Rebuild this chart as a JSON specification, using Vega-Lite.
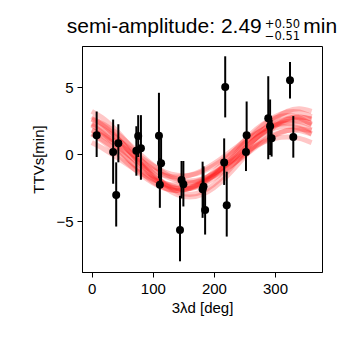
{
  "$schema": "https://vega.github.io/schema/vega-lite/v6.json",
  "width": 240,
  "height": 226,
  "autosize": "none",
  "padding": {"left": 82, "top": 46, "right": 18, "bottom": 68},
  "background": "white",
  "title": {
    "text": "semi-amplitude: 2.49\u2003\u2002\u2009 min",
    "subtitle": ["\u200b\u00a0\u00a0\u00a0\u00a0\u00a0\u00a0\u00a0\u00a0\u00a0\u00a0\u00a0\u00a0\u00a0\u00a0\u00a0\u00a0\u00a0\u00a0\u00a0\u00a0\u00a0\u00a0\u00a0\u00a0\u00a0\u00a0\u00a0\u00a0\u00a0\u00a0\u00a0\u00a0\u00a0\u00a0\u00a0\u00a0\u00a0\u00a0\u00a0\u00a0\u00a0\u00a0\u00a0\u00a0+0.50", "\u200b\u00a0\u00a0\u00a0\u00a0\u00a0\u00a0\u00a0\u00a0\u00a0\u00a0\u00a0\u00a0\u00a0\u00a0\u00a0\u00a0\u00a0\u00a0\u00a0\u00a0\u00a0\u00a0\u00a0\u00a0\u00a0\u00a0\u00a0\u00a0\u00a0\u00a0\u00a0\u00a0\u00a0\u00a0\u00a0\u00a0\u00a0\u00a0\u00a0\u00a0\u00a0\u00a0\u00a0\u00a0\u22120.51"],
    "font": "Liberation Sans",
    "fontSize": 21,
    "fontWeight": "normal",
    "color": "black",
    "subtitleFont": "DejaVu Sans",
    "subtitleFontSize": 11.5,
    "subtitleLineHeight": 12,
    "subtitleColor": "black",
    "subtitlePadding": -18,
    "anchor": "middle",
    "offset": 4
  },
  "config": {
    "font": "Liberation Sans",
    "view": {"stroke": "black", "strokeWidth": 1},
    "axis": {
      "grid": false,
      "domainColor": "black",
      "tickColor": "black",
      "labelColor": "black",
      "titleColor": "black",
      "labelFont": "Liberation Sans",
      "titleFont": "Liberation Sans",
      "labelFontSize": 15,
      "titleFontSize": 15,
      "titleFontWeight": "normal",
      "tickSize": 5,
      "labelPadding": 4
    }
  },
  "datasets": {
    "pts": [
      {"x": 8, "y": 1.42, "lo": -0.2, "hi": 3.2},
      {"x": 35, "y": 0.17, "lo": -2.2, "hi": 2.6},
      {"x": 40, "y": -3.05, "lo": -5.4, "hi": -0.6},
      {"x": 43.5, "y": 0.83, "lo": -0.6, "hi": 2.25},
      {"x": 73, "y": 0.26, "lo": -1.6, "hi": 2.1},
      {"x": 76, "y": 1.37, "lo": -0.2, "hi": 2.93},
      {"x": 80.5, "y": 0.45, "lo": -1.9, "hi": 2.93},
      {"x": 110, "y": 1.38, "lo": -1.8, "hi": 4.6},
      {"x": 113.5, "y": -0.66, "lo": -2.5, "hi": 1.2},
      {"x": 111.5, "y": -2.27, "lo": -4.0, "hi": -0.3},
      {"x": 147, "y": -1.92, "lo": -3.3, "hi": -0.5},
      {"x": 150, "y": -2.24, "lo": -3.9, "hi": -0.5},
      {"x": 144.5, "y": -5.65, "lo": -8.0, "hi": -3.1},
      {"x": 181.5, "y": -2.62, "lo": -4.75, "hi": -0.55},
      {"x": 183, "y": -2.4, "lo": -4.2, "hi": -0.9},
      {"x": 185.6, "y": -4.16, "lo": -6.0, "hi": -2.4},
      {"x": 216.8, "y": -0.62, "lo": -2.29, "hi": 1.19},
      {"x": 218.5, "y": 5.03, "lo": 2.76, "hi": 7.33},
      {"x": 221, "y": -3.8, "lo": -6.15, "hi": -1.3},
      {"x": 253.6, "y": 1.42, "lo": 0.0, "hi": 3.95},
      {"x": 252.5, "y": 0.17, "lo": -1.25, "hi": 1.6},
      {"x": 289, "y": 2.69, "lo": -0.37, "hi": 5.84},
      {"x": 292, "y": 2.1, "lo": -0.05, "hi": 4.1},
      {"x": 294.5, "y": 1.2, "lo": -0.17, "hi": 2.6},
      {"x": 324.6, "y": 5.54, "lo": 4.18, "hi": 6.91},
      {"x": 330, "y": 1.3, "lo": -0.25, "hi": 2.86}
    ],
    "curves": [
      {"s":"a","x":0,"y":2.17},{"s":"a","x":20,"y":1.61},{"s":"a","x":40,"y":0.86},{"s":"a","x":60,"y":0},{"s":"a","x":80,"y":-0.86},{"s":"a","x":100,"y":-1.61},{"s":"a","x":120,"y":-2.17},{"s":"a","x":140,"y":-2.46},{"s":"a","x":160,"y":-2.46},{"s":"a","x":180,"y":-2.17},{"s":"a","x":200,"y":-1.61},{"s":"a","x":220,"y":-0.86},{"s":"a","x":240,"y":0},{"s":"a","x":260,"y":0.86},{"s":"a","x":280,"y":1.61},{"s":"a","x":300,"y":2.17},{"s":"a","x":320,"y":2.46},{"s":"a","x":340,"y":2.46},{"s":"a","x":360,"y":2.17},
      {"s":"b","x":0,"y":1.83},{"s":"b","x":20,"y":1.3},{"s":"b","x":40,"y":0.65},{"s":"b","x":60,"y":-0.05},{"s":"b","x":80,"y":-0.7},{"s":"b","x":100,"y":-1.23},{"s":"b","x":120,"y":-1.58},{"s":"b","x":140,"y":-1.7},{"s":"b","x":160,"y":-1.58},{"s":"b","x":180,"y":-1.23},{"s":"b","x":200,"y":-0.7},{"s":"b","x":220,"y":-0.05},{"s":"b","x":240,"y":0.65},{"s":"b","x":260,"y":1.3},{"s":"b","x":280,"y":1.83},{"s":"b","x":300,"y":2.18},{"s":"b","x":320,"y":2.3},{"s":"b","x":340,"y":2.18},{"s":"b","x":360,"y":1.83},
      {"s":"c","x":0,"y":2.62},{"s":"c","x":20,"y":2.1},{"s":"c","x":40,"y":1.3},{"s":"c","x":60,"y":0.32},{"s":"c","x":80,"y":-0.72},{"s":"c","x":100,"y":-1.7},{"s":"c","x":120,"y":-2.5},{"s":"c","x":140,"y":-3.02},{"s":"c","x":160,"y":-3.2},{"s":"c","x":180,"y":-3.02},{"s":"c","x":200,"y":-2.5},{"s":"c","x":220,"y":-1.7},{"s":"c","x":240,"y":-0.72},{"s":"c","x":260,"y":0.32},{"s":"c","x":280,"y":1.3},{"s":"c","x":300,"y":2.1},{"s":"c","x":320,"y":2.62},{"s":"c","x":340,"y":2.8},{"s":"c","x":360,"y":2.62},
      {"s":"d","x":0,"y":1.51},{"s":"d","x":20,"y":1.01},{"s":"d","x":40,"y":0.35},{"s":"d","x":60,"y":-0.4},{"s":"d","x":80,"y":-1.15},{"s":"d","x":100,"y":-1.81},{"s":"d","x":120,"y":-2.31},{"s":"d","x":140,"y":-2.57},{"s":"d","x":160,"y":-2.57},{"s":"d","x":180,"y":-2.31},{"s":"d","x":200,"y":-1.81},{"s":"d","x":220,"y":-1.15},{"s":"d","x":240,"y":-0.4},{"s":"d","x":260,"y":0.35},{"s":"d","x":280,"y":1.01},{"s":"d","x":300,"y":1.51},{"s":"d","x":320,"y":1.77},{"s":"d","x":340,"y":1.77},{"s":"d","x":360,"y":1.51},
      {"s":"e","x":0,"y":2.66},{"s":"e","x":20,"y":2.24},{"s":"e","x":40,"y":1.6},{"s":"e","x":60,"y":0.82},{"s":"e","x":80,"y":-0.02},{"s":"e","x":100,"y":-0.8},{"s":"e","x":120,"y":-1.44},{"s":"e","x":140,"y":-1.86},{"s":"e","x":160,"y":-2.0},{"s":"e","x":180,"y":-1.86},{"s":"e","x":200,"y":-1.44},{"s":"e","x":220,"y":-0.8},{"s":"e","x":240,"y":-0.02},{"s":"e","x":260,"y":0.82},{"s":"e","x":280,"y":1.6},{"s":"e","x":300,"y":2.24},{"s":"e","x":320,"y":2.66},{"s":"e","x":340,"y":2.8},{"s":"e","x":360,"y":2.66},
      {"s":"f","x":0,"y":2.24},{"s":"f","x":20,"y":1.5},{"s":"f","x":40,"y":0.59},{"s":"f","x":60,"y":-0.39},{"s":"f","x":80,"y":-1.3},{"s":"f","x":100,"y":-2.04},{"s":"f","x":120,"y":-2.53},{"s":"f","x":140,"y":-2.7},{"s":"f","x":160,"y":-2.53},{"s":"f","x":180,"y":-2.04},{"s":"f","x":200,"y":-1.3},{"s":"f","x":220,"y":-0.39},{"s":"f","x":240,"y":0.59},{"s":"f","x":260,"y":1.5},{"s":"f","x":280,"y":2.24},{"s":"f","x":300,"y":2.73},{"s":"f","x":320,"y":2.9},{"s":"f","x":340,"y":2.73},{"s":"f","x":360,"y":2.24},
      {"s":"g","x":0,"y":2.81},{"s":"g","x":20,"y":2.16},{"s":"g","x":40,"y":1.29},{"s":"g","x":60,"y":0.3},{"s":"g","x":80,"y":-0.69},{"s":"g","x":100,"y":-1.57},{"s":"g","x":120,"y":-2.21},{"s":"g","x":140,"y":-2.56},{"s":"g","x":160,"y":-2.56},{"s":"g","x":180,"y":-2.21},{"s":"g","x":200,"y":-1.57},{"s":"g","x":220,"y":-0.69},{"s":"g","x":240,"y":0.3},{"s":"g","x":260,"y":1.29},{"s":"g","x":280,"y":2.16},{"s":"g","x":300,"y":2.81},{"s":"g","x":320,"y":3.16},{"s":"g","x":340,"y":3.16},{"s":"g","x":360,"y":2.81},
      {"s":"h","x":0,"y":1.78},{"s":"h","x":20,"y":1.43},{"s":"h","x":40,"y":0.9},{"s":"h","x":60,"y":0.25},{"s":"h","x":80,"y":-0.45},{"s":"h","x":100,"y":-1.1},{"s":"h","x":120,"y":-1.63},{"s":"h","x":140,"y":-1.98},{"s":"h","x":160,"y":-2.1},{"s":"h","x":180,"y":-1.98},{"s":"h","x":200,"y":-1.63},{"s":"h","x":220,"y":-1.1},{"s":"h","x":240,"y":-0.45},{"s":"h","x":260,"y":0.25},{"s":"h","x":280,"y":0.9},{"s":"h","x":300,"y":1.43},{"s":"h","x":320,"y":1.78},{"s":"h","x":340,"y":1.9},{"s":"h","x":360,"y":1.78},
      {"s":"i","x":0,"y":1.54},{"s":"i","x":20,"y":0.9},{"s":"i","x":40,"y":0.12},{"s":"i","x":60,"y":-0.72},{"s":"i","x":80,"y":-1.5},{"s":"i","x":100,"y":-2.14},{"s":"i","x":120,"y":-2.56},{"s":"i","x":140,"y":-2.7},{"s":"i","x":160,"y":-2.56},{"s":"i","x":180,"y":-2.14},{"s":"i","x":200,"y":-1.5},{"s":"i","x":220,"y":-0.72},{"s":"i","x":240,"y":0.12},{"s":"i","x":260,"y":0.9},{"s":"i","x":280,"y":1.54},{"s":"i","x":300,"y":1.96},{"s":"i","x":320,"y":2.1},{"s":"i","x":340,"y":1.96},{"s":"i","x":360,"y":1.54},
      {"s":"j","x":0,"y":2.32},{"s":"j","x":20,"y":1.85},{"s":"j","x":40,"y":1.22},{"s":"j","x":60,"y":0.5},{"s":"j","x":80,"y":-0.22},{"s":"j","x":100,"y":-0.85},{"s":"j","x":120,"y":-1.32},{"s":"j","x":140,"y":-1.57},{"s":"j","x":160,"y":-1.57},{"s":"j","x":180,"y":-1.32},{"s":"j","x":200,"y":-0.85},{"s":"j","x":220,"y":-0.22},{"s":"j","x":240,"y":0.5},{"s":"j","x":260,"y":1.22},{"s":"j","x":280,"y":1.85},{"s":"j","x":300,"y":2.32},{"s":"j","x":320,"y":2.57},{"s":"j","x":340,"y":2.57},{"s":"j","x":360,"y":2.32},
      {"s":"k","x":0,"y":3.21},{"s":"k","x":20,"y":2.65},{"s":"k","x":40,"y":1.8},{"s":"k","x":60,"y":0.76},{"s":"k","x":80,"y":-0.36},{"s":"k","x":100,"y":-1.4},{"s":"k","x":120,"y":-2.25},{"s":"k","x":140,"y":-2.81},{"s":"k","x":160,"y":-3.0},{"s":"k","x":180,"y":-2.81},{"s":"k","x":200,"y":-2.25},{"s":"k","x":220,"y":-1.4},{"s":"k","x":240,"y":-0.36},{"s":"k","x":260,"y":0.76},{"s":"k","x":280,"y":1.8},{"s":"k","x":300,"y":2.65},{"s":"k","x":320,"y":3.21},{"s":"k","x":340,"y":3.4},{"s":"k","x":360,"y":3.21},
      {"s":"l","x":0,"y":0.88},{"s":"l","x":20,"y":0.4},{"s":"l","x":40,"y":-0.19},{"s":"l","x":60,"y":-0.81},{"s":"l","x":80,"y":-1.4},{"s":"l","x":100,"y":-1.88},{"s":"l","x":120,"y":-2.19},{"s":"l","x":140,"y":-2.3},{"s":"l","x":160,"y":-2.19},{"s":"l","x":180,"y":-1.88},{"s":"l","x":200,"y":-1.4},{"s":"l","x":220,"y":-0.81},{"s":"l","x":240,"y":-0.19},{"s":"l","x":260,"y":0.4},{"s":"l","x":280,"y":0.88},{"s":"l","x":300,"y":1.19},{"s":"l","x":320,"y":1.3},{"s":"l","x":340,"y":1.19},{"s":"l","x":360,"y":0.88}
    ]
  },
  "layer": [
    {
      "data": {"name": "curves"},
      "mark": {"type": "line", "color": "#ff0000", "opacity": 0.22, "strokeWidth": 5, "interpolate": "natural"},
      "encoding": {
        "x": {"field": "x", "type": "quantitative", "scale": {"domain": [-16, 377], "nice": false, "zero": false},
              "axis": {"values": [0, 100, 200, 300], "title": "3λd [deg]", "titlePadding": 4}},
        "y": {"field": "y", "type": "quantitative", "scale": {"domain": [-8.8, 8.1], "nice": false, "zero": false},
              "axis": {"values": [-5, 0, 5], "title": "TTVs[min]", "titlePadding": 9}},
        "detail": {"field": "s", "type": "nominal"}
      }
    },
    {
      "data": {"name": "pts"},
      "mark": {"type": "rule", "color": "black", "strokeWidth": 2},
      "encoding": {
        "x": {"field": "x", "type": "quantitative"},
        "y": {"field": "lo", "type": "quantitative"},
        "y2": {"field": "hi"}
      }
    },
    {
      "data": {"name": "pts"},
      "mark": {"type": "circle", "color": "black", "opacity": 1, "size": 64},
      "encoding": {
        "x": {"field": "x", "type": "quantitative"},
        "y": {"field": "y", "type": "quantitative"}
      }
    }
  ]
}
